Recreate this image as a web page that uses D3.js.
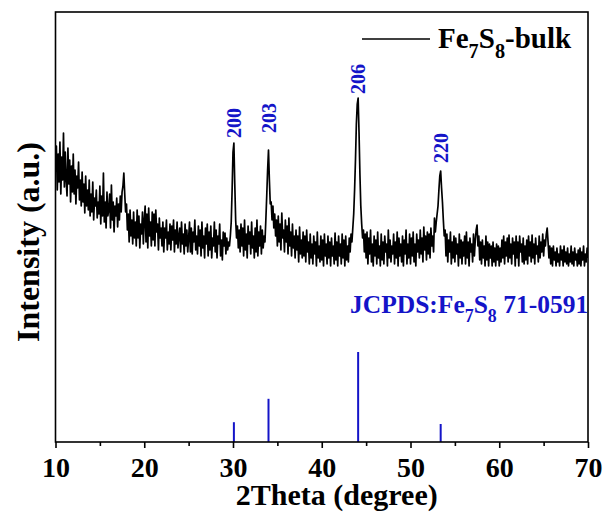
<!DOCTYPE html>
<html>
<head>
<meta charset="utf-8">
<script src="https://cdn.jsdelivr.net/npm/d3@7"></script>
<style>
  body { margin: 0; background: #fff; }
  svg { display: block; }
  text { font-family: "Liberation Serif", "Times New Roman", serif; font-weight: bold; }
</style>
</head>
<body>
<svg id="chart" width="605" height="517"></svg>
<script>
// XRD scan of bulk Fe7S8, sampled every 0.1 degree from 10 to 70 (arbitrary units)
const thetaStart = 10;
const thetaStep = 0.1;
const intensity = [
  270, 296, 252, 288, 260, 300, 248, 285, 262, 309,   // 10
  255, 290, 262, 246, 294, 258, 282, 240, 276, 250,   // 11
  288, 248, 272, 238, 266, 254, 280, 242, 262, 236,   // 12
  270, 240, 258, 229, 266, 236, 252, 232, 262, 226,   // 13
  248, 230, 260, 222, 244, 236, 252, 224, 240, 228,   // 14
  256, 218, 246, 226, 269, 220, 240, 214, 250, 226,   // 15
  232, 248, 214, 257, 222, 240, 210, 236, 226, 244,   // 16
  215, 238, 222, 246, 230, 250, 256, 269, 248, 230,   // 17
  238, 212, 228, 200, 232, 206, 222, 198, 230, 204,   // 18
  220, 196, 232, 204, 226, 194, 218, 208, 230, 198,   // 19
  222, 236, 200, 228, 194, 234, 206, 220, 196, 230,   // 20
  202, 228, 196, 232, 210, 218, 192, 224, 204, 214,   // 21
  196, 220, 190, 214, 204, 222, 192, 210, 198, 218,   // 22
  192, 216, 202, 222, 190, 212, 198, 220, 194, 206,   // 23
  214, 190, 220, 198, 208, 188, 218, 196, 212, 190,   // 24
  204, 220, 190, 214, 188, 210, 200, 222, 192, 206,   // 25
  188, 216, 196, 212, 186, 220, 194, 206, 184, 214,   // 26
  198, 218, 186, 210, 192, 216, 184, 204, 196, 220,   // 27
  190, 212, 184, 206, 198, 218, 186, 202, 182, 210,   // 28
  196, 209, 188, 204, 192, 200, 196, 206, 220, 252,   // 29
  290, 299, 258, 222, 204, 216, 194, 212, 190, 218,   // 30
  196, 214, 186, 222, 192, 208, 184, 216, 198, 210,   // 31
  188, 220, 194, 206, 184, 214, 190, 222, 186, 210,   // 32
  196, 216, 188, 212, 194, 206, 200, 222, 246, 272,   // 33
  292, 262, 238, 240, 222, 236, 214, 228, 206, 222,   // 34
  196, 226, 200, 218, 192, 229, 204, 212, 190, 222,   // 35
  200, 216, 188, 224, 196, 210, 186, 218, 194, 206,   // 36
  184, 212, 192, 206, 180, 215, 188, 202, 184, 210,   // 37
  186, 206, 180, 212, 190, 200, 178, 208, 184, 198,   // 38
  178, 206, 188, 200, 176, 210, 184, 196, 180, 206,   // 39
  182, 202, 176, 208, 186, 198, 178, 206, 184, 200,   // 40
  176, 204, 186, 196, 178, 209, 182, 200, 176, 206,   // 41
  186, 198, 178, 208, 184, 202, 176, 206, 182, 196,   // 42
  180, 204, 190, 208, 200, 214, 228, 252, 282, 318,   // 43
  338, 344, 310, 268, 236, 218, 204, 212, 190, 208,   // 44
  184, 210, 178, 204, 188, 212, 180, 198, 176, 206,   // 45
  186, 202, 178, 210, 184, 196, 176, 208, 182, 200,   // 46
  178, 206, 190, 198, 176, 212, 184, 202, 180, 196,   // 47
  188, 208, 178, 200, 184, 210, 176, 204, 186, 198,   // 48
  180, 206, 176, 202, 188, 212, 178, 198, 184, 208,   // 49
  178, 204, 186, 210, 180, 198, 176, 208, 190, 202,   // 50
  184, 212, 188, 204, 180, 215, 192, 206, 182, 210,   // 51
  188, 208, 184, 214, 196, 206, 190, 224, 210, 220,   // 52
  228, 236, 252, 266, 271, 254, 240, 222, 206, 212,   // 53
  186, 208, 180, 202, 190, 210, 178, 200, 184, 206,   // 54
  180, 204, 188, 198, 176, 208, 184, 202, 178, 200,   // 55
  186, 206, 178, 210, 184, 200, 176, 204, 190, 198,   // 56
  180, 208, 186, 202, 212, 217, 196, 206, 182, 200,   // 57
  178, 202, 184, 196, 176, 206, 182, 200, 176, 198,   // 58
  184, 196, 176, 200, 180, 194, 176, 198, 182, 196,   // 59
  176, 194, 180, 202, 184, 206, 178, 200, 186, 204,   // 60
  180, 207, 184, 198, 178, 204, 188, 200, 176, 206,   // 61
  184, 200, 176, 206, 190, 198, 180, 204, 178, 196,   // 62
  182, 202, 178, 206, 186, 200, 180, 207, 184, 198,   // 63
  178, 204, 188, 196, 180, 206, 184, 200, 190, 208,   // 64
  186, 202, 196, 208, 214, 200, 184, 196, 178, 194,   // 65
  176, 196, 182, 190, 176, 194, 180, 188, 176, 196,   // 66
  182, 192, 176, 196, 180, 190, 178, 194, 176, 188,   // 67
  180, 196, 178, 190, 176, 194, 182, 188, 176, 192,   // 68
  178, 194, 176, 190, 182, 196, 176, 188, 180, 194,   // 69
  184                                                 // 70
];

// Miller indices of the indexed reflections
const hklLabels = ["200", "203", "206", "220"];
const hklPositions = [30.1, 34.0, 44.1, 53.4];
const hklLabelAt = [304, 309, 348, 279];

// Reference pattern JCPDS 71-0591 (relative intensity, %)
const refPositions = [30.1, 34.0, 44.1, 53.4];
const refIntensity = [22, 48, 100, 20];

const xTicks = [10, 20, 30, 40, 50, 60, 70];
const xMinorTicks = [15, 25, 35, 45, 55, 65];

const blue = "#1414c8";
const m = { left: 55.5, right: 588, top: 12, bottom: 442 };

const svg = d3.select("#chart");

const x = d3.scaleLinear().domain([10, 70]).range([m.left, m.right]);
const y = d3.scaleLinear().domain([0, 430]).range([m.bottom, m.top]);
const yRef = d3.scaleLinear().domain([0, 100]).range([m.bottom, m.bottom - 90]);

const scan = intensity.map((v, i) => ({ t: thetaStart + i * thetaStep, v }));

const plot = svg.append("g");
plot.append("clipPath").attr("id", "clip")
  .append("rect").attr("x", m.left).attr("y", m.top)
  .attr("width", m.right - m.left).attr("height", m.bottom - m.top);

// measured pattern
plot.append("path")
  .datum(scan)
  .attr("clip-path", "url(#clip)")
  .attr("fill", "none")
  .attr("stroke", "#000")
  .attr("stroke-width", 1.7)
  .attr("stroke-linejoin", "round")
  .attr("d", d3.line().x(d => x(d.t)).y(d => y(d.v)));

// reference sticks
plot.selectAll("line.ref")
  .data(refPositions)
  .join("line")
  .attr("class", "ref")
  .attr("x1", d => x(d)).attr("x2", d => x(d))
  .attr("y1", yRef(0))
  .attr("y2", (d, i) => yRef(refIntensity[i]))
  .attr("stroke", blue)
  .attr("stroke-width", 2);

// hkl labels above peaks
plot.selectAll("text.hkl")
  .data(hklLabels)
  .join("text")
  .attr("class", "hkl")
  .attr("transform", (d, i) => `translate(${x(hklPositions[i])},${y(hklLabelAt[i])}) rotate(-90)`)
  .attr("dy", "0.35em")
  .attr("fill", blue)
  .attr("font-size", 20)
  .text(d => d);

// frame
svg.append("rect")
  .attr("x", m.left).attr("y", m.top)
  .attr("width", m.right - m.left).attr("height", m.bottom - m.top)
  .attr("fill", "none").attr("stroke", "#000").attr("stroke-width", 1.6);

// bottom axis
const xAxis = svg.append("g")
  .attr("transform", `translate(0,${m.bottom})`)
  .call(d3.axisBottom(x).tickValues(xTicks).tickSize(6).tickPadding(9).tickFormat(d3.format("d")));
xAxis.select(".domain").remove();
xAxis.selectAll(".tick line").attr("stroke", "#000").attr("stroke-width", 1.6);
xAxis.selectAll(".tick text")
  .attr("font-size", 28)
  .attr("fill", "#000")
  .style("font-family", "'Liberation Serif','Times New Roman',serif")
  .style("font-weight", "bold");

const xMinor = svg.append("g")
  .attr("transform", `translate(0,${m.bottom})`)
  .call(d3.axisBottom(x).tickValues(xMinorTicks).tickSize(4).tickFormat(""));
xMinor.select(".domain").remove();
xMinor.selectAll(".tick line").attr("stroke", "#000").attr("stroke-width", 1.6);

// axis titles
svg.append("text")
  .attr("x", (m.left + m.right) / 2 + 15)
  .attr("y", 505)
  .attr("text-anchor", "middle")
  .attr("font-size", 30)
  .text("2Theta (degree)");

svg.append("text")
  .attr("transform", `translate(39,242) rotate(-90)`)
  .attr("text-anchor", "middle")
  .attr("font-size", 32)
  .text("Intensity (a.u.)");

// legend
svg.append("line")
  .attr("x1", 362).attr("x2", 430).attr("y1", 39).attr("y2", 39)
  .attr("stroke", "#000").attr("stroke-width", 1.5);

// text with lowered, smaller subscript parts
function chemText(sel, parts, size) {
  let shift = 0;
  parts.forEach(p => {
    const target = p.sub ? size * 0.34 : 0;
    sel.append("tspan")
      .attr("font-size", p.sub ? size * 0.7 : size)
      .attr("dy", target - shift)
      .text(p.s);
    shift = target;
  });
}

const legendText = svg.append("text").attr("x", 438).attr("y", 48);
chemText(legendText, [
  { s: "Fe" }, { s: "7", sub: true }, { s: "S" }, { s: "8", sub: true }, { s: "-bulk" }
], 29);

const refText = svg.append("text").attr("x", 350).attr("y", 313).attr("fill", blue);
chemText(refText, [
  { s: "JCPDS:Fe" }, { s: "7", sub: true }, { s: "S" }, { s: "8", sub: true }, { s: " 71-0591" }
], 25.5);
</script>
</body>
</html>
